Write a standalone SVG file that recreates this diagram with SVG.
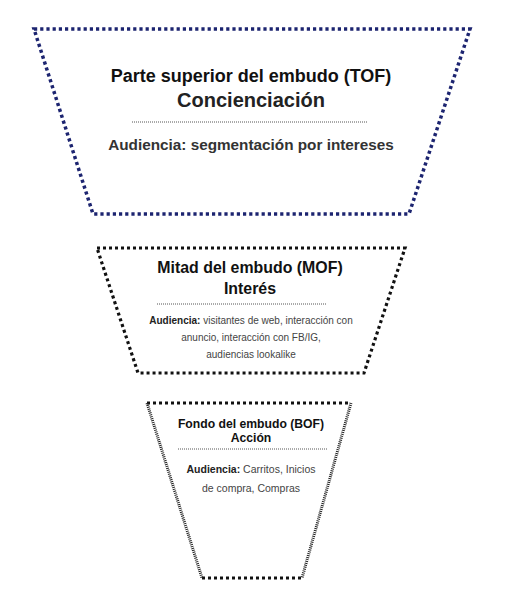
<svg xmlns="http://www.w3.org/2000/svg" width="509" height="608" viewBox="0 0 509 608">
<style>
.t{font-family:"Liberation Sans",Arial,sans-serif;text-anchor:middle}
.b{font-weight:bold;fill:#111}
.g{fill:#444}
.div{stroke:#555;stroke-width:1;stroke-dasharray:1 1;fill:none}
</style>
<rect width="509" height="608" fill="#fff"/>
<g id="tof">
<polygon points="34,29 470,29 409,214 93,214" fill="none" stroke="#1c2470" stroke-width="3.5" stroke-dasharray="3.2 3"/>
<text class="t b" x="251" y="82" font-size="18">Parte superior del embudo (TOF)</text>
<text class="t" x="251" y="107" font-size="20" font-weight="bold" fill="#222">Concienciación</text>
<line class="div" x1="132" y1="122" x2="368" y2="122"/>
<text class="t" x="251" y="150" font-size="15.3" font-weight="bold" fill="#333">Audiencia: segmentación por intereses</text>
</g>
<g id="mof">
<polygon points="97,248 405,248 364,373 138,373" fill="none" stroke="#111" stroke-width="3.2" stroke-dasharray="3 3"/>
<text class="t b" x="250" y="273" font-size="15.9">Mitad del embudo (MOF)</text>
<text class="t b" x="250" y="294" font-size="15.9">Interés</text>
<line class="div" x1="157" y1="304" x2="327" y2="304"/>
<text class="t" x="251" y="324" font-size="10"><tspan font-weight="bold" fill="#222">Audiencia:</tspan><tspan class="g"> visitantes de web, interacción con</tspan></text>
<text class="t g" x="251" y="341" font-size="10">anuncio, interacción con FB/IG,</text>
<text class="t g" x="251" y="358" font-size="10">audiencias lookalike</text>
</g>
<g id="bof">
<line x1="147" y1="403" x2="351" y2="403" stroke="#111" stroke-width="3" stroke-dasharray="3 3"/>
<line x1="202" y1="578" x2="302" y2="578" stroke="#111" stroke-width="3" stroke-dasharray="3 3"/>
<line x1="147" y1="403" x2="202" y2="578" stroke="#222" stroke-width="3" stroke-dasharray="1 1"/>
<line x1="351" y1="403" x2="302" y2="578" stroke="#222" stroke-width="3" stroke-dasharray="1 1"/>
<text class="t b" x="251" y="428" font-size="12.2">Fondo del embudo (BOF)</text>
<text class="t b" x="251" y="442" font-size="12.2">Acción</text>
<line class="div" x1="178" y1="449" x2="327" y2="449"/>
<text class="t" x="251" y="473" font-size="10.5"><tspan font-weight="bold" fill="#222">Audiencia:</tspan><tspan class="g"> Carritos, Inicios</tspan></text>
<text class="t g" x="251" y="492" font-size="10.5">de compra, Compras</text>
</g>
<g id="connectors"/>
</svg>
